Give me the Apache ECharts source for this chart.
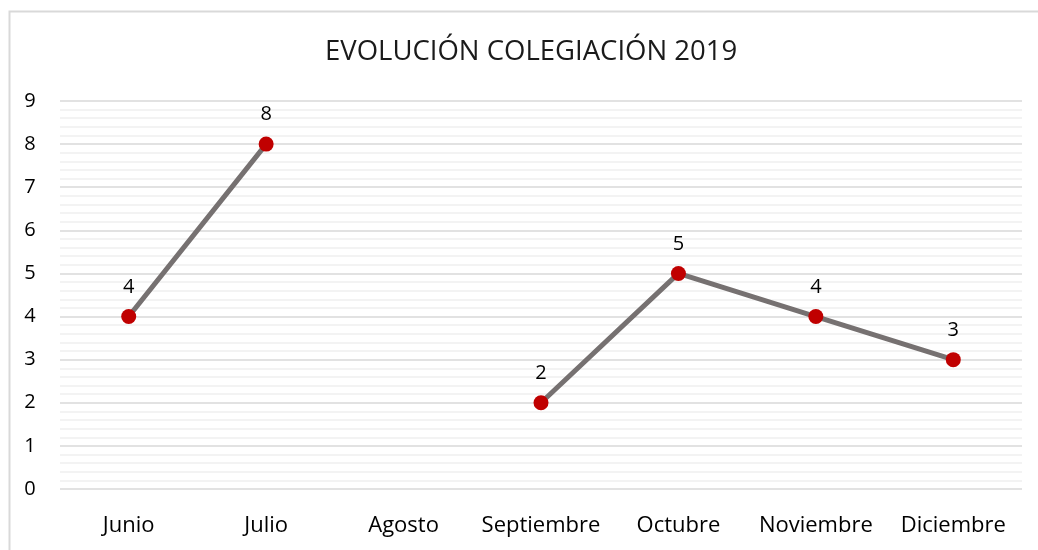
<!DOCTYPE html>
<html>
<head>
<meta charset="utf-8">
<script src="https://cdn.jsdelivr.net/npm/echarts@6/dist/echarts.min.js"></script>
<style>
html,body{margin:0;padding:0;background:#fff;}
#chart{width:1038px;height:550px;}
</style>
</head>
<body>
<div id="chart"></div>
<script>
const titleText = 'EVOLUCIÓN COLEGIACIÓN 2019';
const categories = ['Junio','Julio','Agosto','Septiembre','Octubre','Noviembre','Diciembre'];
const values = [4, 8, null, 2, 5, 4, 3];
const yMin = 0, yMax = 9, yStep = 1;

const FONT = '"Open Sans", sans-serif';
const chart = echarts.init(document.getElementById('chart'));
chart.setOption({
  animation: false,
  backgroundColor: '#fff',
  graphic: [{
    type: 'rect', left: 7, top: 9, z: -1,
    shape: { width: 1100, height: 600 },
    style: { fill: 'none', stroke: '#d9d9d9', lineWidth: 2 }
  }],
  title: {
    text: titleText, left: 320, top: 33,
    textStyle: { fontFamily: FONT, fontSize: 27.5, fontWeight: 'normal', color: '#1a1a1a' }
  },
  grid: { left: 60, right: 16, top: 101, bottom: 61, containLabel: false },
  xAxis: {
    type: 'category', data: categories, boundaryGap: true,
    axisLine: { show: false }, axisTick: { show: false },
    axisLabel: { interval: 0, hideOverlap: false, fontFamily: FONT, fontSize: 22, color: '#000', margin: 26 }
  },
  yAxis: {
    type: 'value', min: yMin, max: yMax, interval: yStep,
    axisLine: { show: false }, axisTick: { show: false },
    axisLabel: { fontFamily: FONT, fontSize: 20, color: '#000', margin: 30, align: 'center' },
    splitLine: { lineStyle: { color: '#d9d9d9', width: 1.5 } },
    minorTick: { show: false, splitNumber: 5 },
    minorSplitLine: { show: true, lineStyle: { color: '#f0f0f0', width: 1.5 } }
  },
  series: [{
    type: 'line', data: values, connectNulls: false,
    lineStyle: { color: '#767171', width: 5 },
    symbol: 'circle', symbolSize: 15,
    itemStyle: { color: '#c00000', borderColor: '#c00000', borderWidth: 0 },
    label: { show: true, position: 'top', distance: 12, fontFamily: FONT, fontSize: 20, color: '#000' }
  }]
});
</script>
</body>
</html>
